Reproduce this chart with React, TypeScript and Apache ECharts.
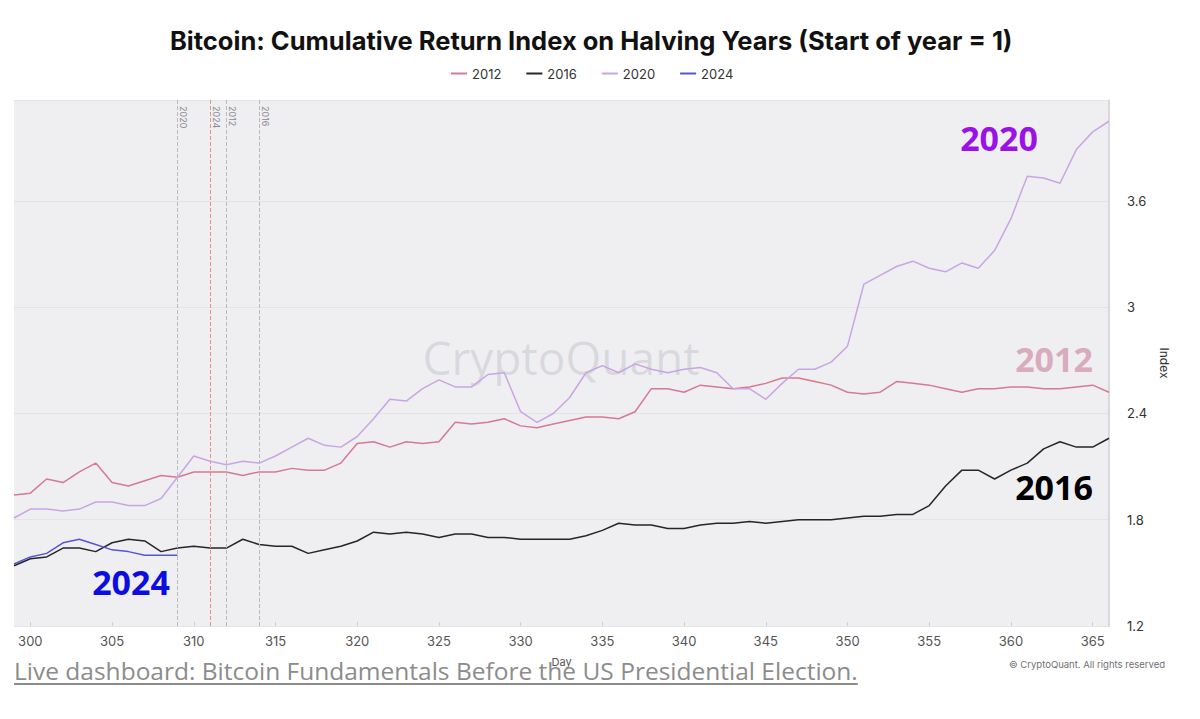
import React, { useEffect, useRef } from "react";
import * as echarts from "echarts";

const days = [
  299, 300, 301, 302, 303, 304, 305, 306, 307, 308, 309, 310, 311, 312, 313, 314, 315, 316, 317,
  318, 319, 320, 321, 322, 323, 324, 325, 326, 327, 328, 329, 330, 331, 332, 333, 334, 335, 336,
  337, 338, 339, 340, 341, 342, 343, 344, 345, 346, 347, 348, 349, 350, 351, 352, 353, 354, 355,
  356, 357, 358, 359, 360, 361, 362, 363, 364, 365, 366,
];

const xTickDays = [300, 305, 310, 315, 320, 325, 330, 335, 340, 345, 350, 355, 360, 365];
const yTickValues = [1.2, 1.8, 2.4, 3.0, 3.6];

const series2012 = [
  1.94, 1.95, 2.03, 2.01, 2.07, 2.12, 2.01, 1.99, 2.02, 2.05, 2.04, 2.07, 2.07, 2.07, 2.05, 2.07,
  2.07, 2.09, 2.08, 2.08, 2.12, 2.23, 2.24, 2.21, 2.24, 2.23, 2.24, 2.35, 2.34, 2.35, 2.37, 2.33,
  2.32, 2.34, 2.36, 2.38, 2.38, 2.37, 2.41, 2.54, 2.54, 2.52, 2.56, 2.55, 2.54, 2.55, 2.57, 2.6,
  2.6, 2.58, 2.56, 2.52, 2.51, 2.52, 2.58, 2.57, 2.56, 2.54, 2.52, 2.54, 2.54, 2.55, 2.55, 2.54,
  2.54, 2.55, 2.56, 2.52,
];

const series2016 = [
  1.54, 1.58, 1.59, 1.64, 1.64, 1.62, 1.67, 1.69, 1.68, 1.62, 1.64, 1.65, 1.64, 1.64, 1.69, 1.66,
  1.65, 1.65, 1.61, 1.63, 1.65, 1.68, 1.73, 1.72, 1.73, 1.72, 1.7, 1.72, 1.72, 1.7, 1.7, 1.69,
  1.69, 1.69, 1.69, 1.71, 1.74, 1.78, 1.77, 1.77, 1.75, 1.75, 1.77, 1.78, 1.78, 1.79, 1.78, 1.79,
  1.8, 1.8, 1.8, 1.81, 1.82, 1.82, 1.83, 1.83, 1.88, 1.99, 2.08, 2.08, 2.03, 2.08, 2.12, 2.2,
  2.24, 2.21, 2.21, 2.26,
];

const series2020 = [
  1.81, 1.86, 1.86, 1.85, 1.86, 1.9, 1.9, 1.88, 1.88, 1.92, 2.04, 2.16, 2.13, 2.11, 2.13, 2.12,
  2.16, 2.21, 2.26, 2.22, 2.21, 2.27, 2.37, 2.48, 2.47, 2.54, 2.59, 2.55, 2.55, 2.62, 2.63, 2.41,
  2.35, 2.4, 2.49, 2.63, 2.67, 2.63, 2.68, 2.65, 2.63, 2.65, 2.66, 2.63, 2.54, 2.54, 2.48, 2.57,
  2.65, 2.65, 2.69, 2.78, 3.13, 3.18, 3.23, 3.26, 3.22, 3.2, 3.25, 3.22, 3.32, 3.5, 3.74, 3.73,
  3.7, 3.89, 3.99, 4.05,
];

const series2024 = [1.55, 1.59, 1.61, 1.67, 1.69, 1.66, 1.63, 1.62, 1.6, 1.6, 1.6];

const seriesNames = ["2012", "2016", "2020", "2024"];
const seriesColors = ["#d67a93", "#262626", "#c9a5e3", "#5656d2"];

const halvingNames = ["2020", "2024", "2012", "2016"];
const halvingDays = [309, 311, 312, 314];
const halvingColors = ["#b9b9bf", "#e3908a", "#b9b9bf", "#b9b9bf"];

const annotationTexts = ["2020", "2012", "2016", "2024"];
const annotationColors = ["#9a12e6", "#d9abbc", "#000000", "#0d0ddf"];
const annotationCenters = [
  [999, 138],
  [1054, 359],
  [1054, 487],
  [131, 582],
];

const FONT = "Inter, 'Noto Sans', sans-serif";

export default function App() {
  const ref = useRef<HTMLDivElement>(null);

  useEffect(() => {
    if (!ref.current) return;
    const chart = echarts.init(ref.current, undefined, { renderer: "svg" });
    const cats = days.map((d) => String(d));
    const dataSets = [series2012, series2016, series2020, series2024];

    const option: any = {
      animation: false,
      backgroundColor: "#ffffff",
      textStyle: { fontFamily: FONT },
      title: {
        text: "Bitcoin: Cumulative Return Index on Halving Years (Start of year = 1)",
        left: 165,
        top: 22,
        padding: [5, 5, 5, 5],
        textStyle: { fontSize: 25.5, fontWeight: 700, color: "#111111", fontFamily: FONT },
      },
      legend: {
        data: seriesNames,
        top: 64,
        left: 446,
        padding: [3, 5, 3, 5],
        icon: "rect",
        itemWidth: 16,
        itemHeight: 2,
        itemGap: 25,
        textStyle: { fontSize: 13, color: "#333333", fontFamily: FONT },
      },
      grid: {
        left: 14,
        right: 91,
        top: 100,
        bottom: 93,
        show: true,
        backgroundColor: "#efeff2",
        borderWidth: 0,
      },
      xAxis: {
        type: "category",
        data: cats,
        boundaryGap: false,
        name: "Day",
        nameLocation: "middle",
        nameGap: 30,
        nameTextStyle: { fontSize: 11, color: "#555555" },
        axisLine: { show: false },
        axisTick: {
          show: true,
          inside: true,
          length: 4,
          lineStyle: { color: "#cfcfd4" },
          interval: (idx: number) => xTickDays.includes(days[idx]),
        },
        axisLabel: {
          fontSize: 13,
          color: "#555555",
          margin: 8,
          interval: (idx: number) => xTickDays.includes(days[idx]),
        },
        splitLine: { show: false },
      },
      yAxis: {
        type: "value",
        position: "right",
        min: 1.2,
        max: 4.17,
        interval: 0.6,
        name: "Index",
        nameLocation: "middle",
        nameRotate: -90,
        nameGap: 49,
        nameTextStyle: { fontSize: 12, color: "#333333" },
        axisLine: { show: true, lineStyle: { color: "#cfcfd4", width: 1.5 } },
        axisTick: { show: false },
        axisLabel: {
          fontSize: 13,
          color: "#333333",
          margin: 18,
          showMaxLabel: false,
          formatter: (v: number) => String(Math.round(v * 10) / 10),
        },
        splitLine: { show: true, lineStyle: { color: "#e3e3e8", width: 1 } },
      },
      series: seriesNames.map((name, i) => ({
        name,
        type: "line",
        data: dataSets[i],
        showSymbol: false,
        symbol: "none",
        lineStyle: { width: 1.5, color: seriesColors[i] },
        itemStyle: { color: seriesColors[i] },
        z: 3 + i,
        markLine:
          i === 0
            ? {
                silent: true,
                symbol: "none",
                label: { show: false },
                data: halvingDays.map((d, k) => ({
                  xAxis: String(d),
                  lineStyle: { color: halvingColors[k], type: "dashed", width: 1 },
                })),
              }
            : undefined,
      })),
    };
    chart.setOption(option);

    const top = chart.convertToPixel({ yAxisIndex: 0 }, 4.17) as number;
    const graphics: any[] = [];
    halvingDays.forEach((d, k) => {
      const px = chart.convertToPixel({ xAxisIndex: 0 }, days.indexOf(d)) as number;
      graphics.push({
        type: "text",
        x: px + 6,
        y: top + 6,
        rotation: -Math.PI / 2,
        z: 10,
        style: {
          text: halvingNames[k],
          fill: "#8a8a90",
          fontSize: 9,
          fontFamily: FONT,
          textAlign: "left",
          textVerticalAlign: "middle",
        },
      });
    });
    annotationTexts.forEach((t, k) => {
      graphics.push({
        type: "text",
        x: annotationCenters[k][0],
        y: annotationCenters[k][1],
        z: 20,
        style: {
          text: t,
          fill: annotationColors[k],
          fontSize: 34,
          fontWeight: 700,
          fontFamily: "'Open Sans', 'Noto Sans', sans-serif",
          textAlign: "center",
          textVerticalAlign: "middle",
        },
      });
    });
    graphics.push({
      type: "text",
      x: 561,
      y: 357,
      z: 1,
      silent: true,
      style: {
        text: "CryptoQuant",
        fill: "rgba(160,160,172,0.28)",
        fontSize: 46,
        fontFamily: "'Open Sans', sans-serif",
        textAlign: "center",
        textVerticalAlign: "middle",
      },
    });
    graphics.push({
      type: "text",
      x: 1165,
      y: 664,
      z: 10,
      style: {
        text: "© CryptoQuant. All rights reserved",
        fill: "#6f6f75",
        fontSize: 9.5,
        fontFamily: FONT,
        textAlign: "right",
        textVerticalAlign: "middle",
      },
    });
    chart.setOption({ graphic: graphics });

    return () => chart.dispose();
  }, []);

  return (
    <div
      style={{
        position: "fixed",
        left: 0,
        top: 0,
        width: 1200,
        height: 719,
        background: "#ffffff",
        overflow: "hidden",
      }}
    >
      <div ref={ref} style={{ position: "absolute", left: 0, top: 0, width: 1200, height: 719 }} />
      <a
        href="#"
        style={{
          position: "absolute",
          left: 14,
          top: 655,
          fontFamily: "'Open Sans', sans-serif",
          fontSize: 24.5,
          lineHeight: "32px",
          color: "#8c8c8c",
          textDecoration: "underline",
          textDecorationThickness: "2px",
          textUnderlineOffset: "3px",
          whiteSpace: "nowrap",
        }}
      >
        Live dashboard: Bitcoin Fundamentals Before the US Presidential Election.
      </a>
    </div>
  );
}
